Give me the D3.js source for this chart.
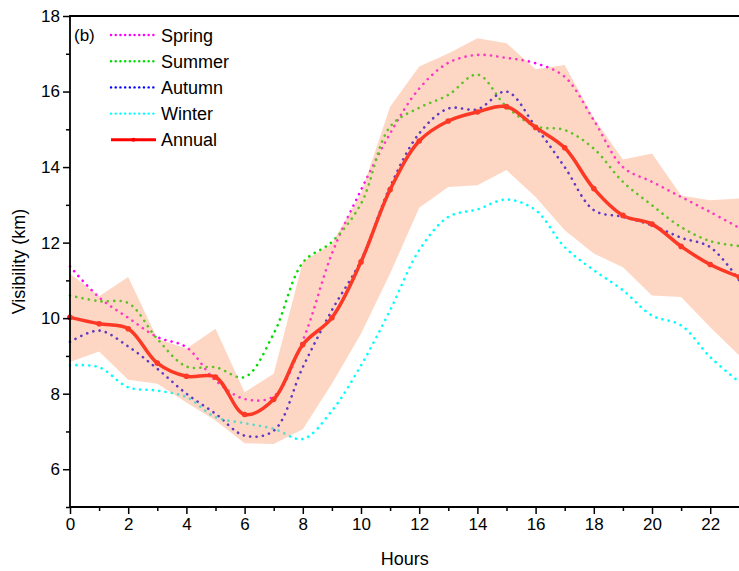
<!DOCTYPE html>
<html lang="en">
  <head>
    <meta charset="UTF-8" />
    <script src="https://d3js.org/d3.v7.min.js"></script>
    <style>
      body { margin: 0; background: #fff; }
      svg { display: block; }
      text { font-family: "Liberation Sans", Arial, sans-serif; fill: #000; }
    </style>
  </head>
  <body>
    <svg id="chart" width="739" height="571"></svg>
    <script>
      // hourly values (km)
      const hours = d3.range(0, 24);
      const spring = [11.37, 10.55, 10.01, 9.50, 9.23, 8.35, 7.86, 7.93, 9.41, 11.71, 13.39, 14.89,
                      16.08, 16.76, 16.97, 16.89, 16.75, 16.39, 15.24, 14.0, 13.61, 13.21, 12.81, 12.39];
      const summer = [10.60, 10.45, 10.40, 9.45, 8.72, 8.70, 8.44, 9.59, 11.47, 12.02, 13.03, 15.07,
                      15.57, 15.91, 16.45, 15.60, 15.08, 14.98, 14.49, 13.61, 12.99, 12.41, 12.04, 11.91];
      const autumn = [9.37, 9.67, 9.25, 8.66, 8.0, 7.47, 6.89, 7.02, 8.70, 10.21, 11.53, 13.48,
                      14.89, 15.55, 15.53, 16.0, 15.07, 14.0, 12.86, 12.68, 12.46, 12.13, 11.88, 11.0];
      const winter = [8.75, 8.70, 8.17, 8.08, 7.91, 7.38, 7.22, 7.07, 6.80, 7.55, 8.75, 10.21,
                      11.80, 12.68, 12.88, 13.14, 12.86, 11.88, 11.27, 10.74, 10.07, 9.81, 8.97, 8.31];
      const annual = [10.02, 9.85, 9.72, 8.81, 8.46, 8.44, 7.45, 7.85, 9.30, 10.01, 11.49, 13.40,
                      14.69, 15.22, 15.46, 15.60, 15.05, 14.51, 13.43, 12.72, 12.49, 11.90, 11.42, 11.09];
      const bandUpper = [11.18, 10.58, 11.09, 9.46, 9.19, 9.72, 8.04, 8.53, 11.49, 11.97, 13.30, 15.60,
                         16.66, 17.01, 17.41, 17.28, 16.59, 16.70, 15.29, 14.2, 14.36, 13.25, 13.12, 13.17];
      const bandLower = [8.84, 9.12, 8.37, 8.26, 7.77, 7.29, 6.69, 6.67, 7.06, 8.26, 9.59, 11.18,
                         12.92, 13.47, 13.52, 13.92, 13.21, 12.33, 11.71, 11.35, 10.60, 10.56, 9.76, 9.01];

      const seasons = [
        { name: "Spring", values: spring, color: "#ff00ff" },
        { name: "Summer", values: summer, color: "#00dd00" },
        { name: "Autumn", values: autumn, color: "#0000ff" },
        { name: "Winter", values: winter, color: "#00ffff" }
      ];

      const svg = d3.select("#chart");
      const pL = 70, pR = 739.5, pT = 16, pB = 507;

      const x = d3.scaleLinear().domain([0, 23]).range([pL, pL + 23 * 29.1]);
      const y = d3.scaleLinear().domain([5, 18]).range([pB, pT]);

      const smooth = d3.curveCatmullRom.alpha(0.5);

      // seasonal dotted lines
      seasons.forEach(s => {
        svg.append("path")
          .datum(s.values)
          .attr("fill", "none")
          .attr("stroke", s.color)
          .attr("stroke-width", 2.6)
          .attr("stroke-linecap", "round")
          .attr("stroke-dasharray", "0.1 6.3")
          .attr("d", d3.line().x((d, i) => x(hours[i])).y(d => y(d)).curve(smooth));
      });

      // annual line with markers
      svg.append("path")
        .datum(annual)
        .attr("fill", "none")
        .attr("stroke", "#ff0000")
        .attr("stroke-width", 3.5)
        .attr("d", d3.line().x((d, i) => x(hours[i])).y(d => y(d)).curve(smooth));
      svg.append("g").selectAll("circle")
        .data(annual)
        .join("circle")
        .attr("cx", (d, i) => x(hours[i]))
        .attr("cy", d => y(d))
        .attr("r", 2.8)
        .attr("fill", "#ff0000");

      // range band drawn on top, semi-transparent
      svg.append("path")
        .datum(hours)
        .attr("fill", "rgb(250,150,100)")
        .attr("fill-opacity", 0.38)
        .attr("d", d3.area()
          .x(h => x(h))
          .y0(h => y(bandLower[h]))
          .y1(h => y(bandUpper[h])));

      // axes
      const xAxis = svg.append("g")
        .attr("transform", `translate(0,${pB})`)
        .call(d3.axisBottom(x).tickValues(d3.range(0, 23, 2)).tickSize(7).tickPadding(4));
      svg.append("g")
        .attr("transform", `translate(0,${pB})`)
        .call(d3.axisBottom(x).tickValues(d3.range(1, 24, 2)).tickSize(4).tickFormat(""));
      const yAxis = svg.append("g")
        .attr("transform", `translate(${pL},0)`)
        .call(d3.axisLeft(y).tickValues([6, 8, 10, 12, 14, 16, 18]).tickSize(7).tickPadding(3));
      svg.append("g")
        .attr("transform", `translate(${pL},0)`)
        .call(d3.axisLeft(y).tickValues([5, 7, 9, 11, 13, 15, 17]).tickSize(4).tickFormat(""));

      [xAxis, yAxis].forEach(g => {
        g.selectAll("text").style("font-size", "17px")
          .style("font-family", "'Liberation Sans', Arial, sans-serif");
      });
      svg.selectAll(".tick line").attr("stroke", "#000").attr("stroke-width", 1.5);
      svg.selectAll(".domain").remove();

      // frame lines: left, bottom, top
      svg.append("path")
        .attr("d", `M${pR},${pT}H${pL}V${pB}H${pR}`)
        .attr("fill", "none")
        .attr("stroke", "#000")
        .attr("stroke-width", 1.8);

      // axis titles
      svg.append("text")
        .attr("x", (pL + pR) / 2)
        .attr("y", 565)
        .attr("text-anchor", "middle")
        .style("font-size", "18px")
        .text("Hours");
      svg.append("text")
        .attr("transform", `translate(25,${(pT + pB) / 2}) rotate(-90)`)
        .attr("text-anchor", "middle")
        .style("font-size", "18px")
        .text("Visibility (km)");

      // panel label
      svg.append("text")
        .attr("x", 74)
        .attr("y", 41)
        .style("font-size", "17px")
        .text("(b)");

      // legend
      const legendItems = seasons.concat([{ name: "Annual", color: "#ff0000", solid: true }]);
      const leg = svg.append("g");
      legendItems.forEach((s, i) => {
        const ly = 35 + i * 26.2;
        const ln = leg.append("line")
          .attr("x1", 111).attr("x2", 156)
          .attr("y1", ly).attr("y2", ly)
          .attr("stroke", s.color);
        if (s.solid) {
          ln.attr("stroke-width", 3);
          leg.append("circle").attr("cx", 133.5).attr("cy", ly).attr("r", 2).attr("fill", s.color);
        } else {
          ln.attr("stroke-width", 2.4)
            .attr("stroke-linecap", "round")
            .attr("stroke-dasharray", "0.1 4.6");
        }
        leg.append("text")
          .attr("x", 161)
          .attr("y", ly + 6.5)
          .style("font-size", "18px")
          .text(s.name);
      });
    </script>
  </body>
</html>
